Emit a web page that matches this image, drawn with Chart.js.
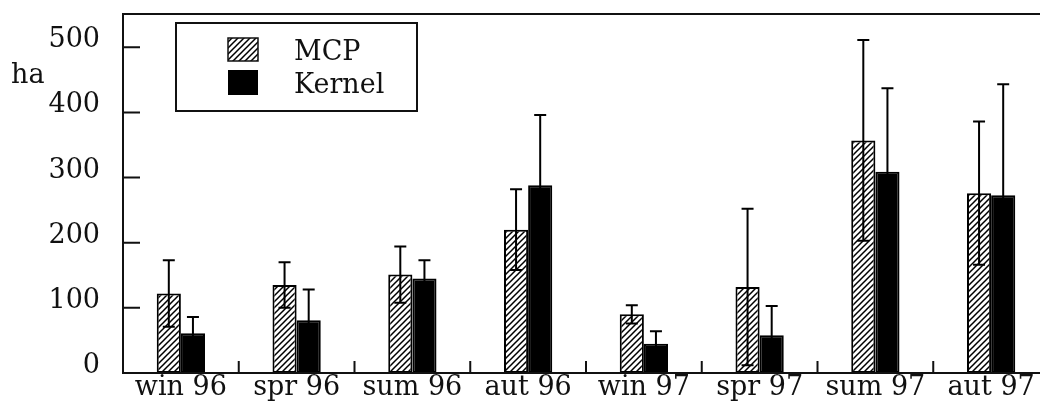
<!DOCTYPE html>
<html>
<head>
<meta charset="utf-8">
<script src="https://cdn.jsdelivr.net/npm/chart.js@4"></script>
<style>
  html, body { margin: 0; padding: 0; background: #fff; overflow: hidden; }
  #wrap { position: relative; width: 1052px; height: 403px; }
</style>
</head>
<body>
<div id="wrap"><canvas id="rangeChart"></canvas></div>
<script>
// 季節ごとの行動圏面積 (ha)
const seasons = ['win 96', 'spr 96', 'sum 96', 'aut 96', 'win 97', 'spr 97', 'sum 97', 'aut 97'];
const mcpMean = [122, 135, 151, 220, 90, 132, 357, 276];
const mcpSd = [51, 35, 43, 62, 14, 120, 154, 110];
const kernelMean = [61, 81, 145, 288, 45, 58, 309, 273];
const kernelSd = [25, 47, 28, 108, 19, 45, 128, 170];
const yTicks = [0, 100, 200, 300, 400, 500];

const errors = [mcpSd, kernelSd];
const serif = 'DejaVu Serif';
const ink = '#111';

// 斜線パターン
function makeHatch() {
  const n = 6;
  const c = document.createElement('canvas');
  c.width = n;
  c.height = n;
  const g = c.getContext('2d');
  g.fillStyle = '#fff';
  g.fillRect(0, 0, n, n);
  g.strokeStyle = '#000';
  g.lineWidth = 1.5;
  g.beginPath();
  g.moveTo(-1, n + 1); g.lineTo(n + 1, -1);
  g.moveTo(-n / 2 - 1, n / 2 + 1); g.lineTo(n / 2 + 1, -n / 2 - 1);
  g.moveTo(n / 2 - 1, n * 1.5 + 1); g.lineTo(n * 1.5 + 1, n / 2 - 1);
  g.stroke();
  return g.createPattern(c, 'repeat');
}
const hatch = makeHatch();

// 軸ラベル分の余白を消す
function noPadding(scale) {
  scale.paddingTop = 0;
  scale.paddingBottom = 0;
  scale.paddingLeft = 0;
  scale.paddingRight = 0;
}

// 枠・目盛り
const framePlugin = {
  id: 'frame',
  afterDraw(chart) {
    const { ctx, chartArea: a, scales: { x, y } } = chart;
    ctx.save();
    ctx.strokeStyle = ink;
    ctx.lineWidth = 2;
    ctx.strokeRect(a.left, a.top, a.right - a.left, a.bottom - a.top);
    ctx.beginPath();
    yTicks.forEach(v => {
      if (v === 0) return;
      const py = y.getPixelForValue(v);
      ctx.moveTo(a.left, py);
      ctx.lineTo(a.left + 17, py);
    });
    for (let i = 1; i < seasons.length; i++) {
      const px = (x.getPixelForTick(i - 1) + x.getPixelForTick(i)) / 2;
      ctx.moveTo(px, a.bottom);
      ctx.lineTo(px, a.bottom - 12);
    }
    ctx.stroke();

    // 単位
    ctx.fillStyle = ink;
    ctx.font = '27px "' + serif + '"';
    ctx.textBaseline = 'alphabetic';
    ctx.textAlign = 'left';
    ctx.fillText('ha', 11, 83);
    ctx.restore();
  }
};

// 誤差棒
const errorBarPlugin = {
  id: 'errorBars',
  afterDatasetsDraw(chart) {
    const { ctx, scales: { y } } = chart;
    ctx.save();
    ctx.strokeStyle = '#000';
    ctx.lineWidth = 2;
    chart.data.datasets.forEach((ds, i) => {
      const meta = chart.getDatasetMeta(i);
      meta.data.forEach((bar, j) => {
        const m = ds.data[j];
        const s = errors[i][j];
        const top = y.getPixelForValue(m + s);
        const bot = y.getPixelForValue(Math.max(m - s, 0));
        ctx.beginPath();
        ctx.moveTo(bar.x, bot);
        ctx.lineTo(bar.x, top);
        ctx.moveTo(bar.x - 6, top);
        ctx.lineTo(bar.x + 6, top);
        ctx.moveTo(bar.x - 6, bot);
        ctx.lineTo(bar.x + 6, bot);
        ctx.stroke();
      });
    });
    ctx.restore();
  }
};

// 凡例
const legendBoxPlugin = {
  id: 'legendBox',
  afterDraw(chart) {
    const { ctx } = chart;
    const ds = chart.data.datasets;
    ctx.save();
    ctx.fillStyle = '#fff';
    ctx.fillRect(176, 23, 241, 88);
    ctx.strokeStyle = ink;
    ctx.lineWidth = 2;
    ctx.strokeRect(176, 23, 241, 88);

    ctx.fillStyle = hatch;
    ctx.fillRect(228, 38, 30, 23);
    ctx.lineWidth = 1.5;
    ctx.strokeRect(228, 38, 30, 23);
    ctx.fillStyle = '#000';
    ctx.fillRect(228, 70, 30, 25);

    ctx.fillStyle = ink;
    ctx.font = '27px "' + serif + '"';
    ctx.textAlign = 'left';
    ctx.textBaseline = 'alphabetic';
    ctx.fillText(ds[0].label, 294, 60);
    ctx.fillText(ds[1].label, 294, 93);
    ctx.restore();
  }
};

document.addEventListener('DOMContentLoaded', () => {
  const ctx = document.getElementById('rangeChart').getContext('2d');
  new Chart(ctx, {
    type: 'bar',
    data: {
      labels: seasons,
      datasets: [
        {
          label: 'MCP',
          data: mcpMean,
          backgroundColor: hatch,
          borderColor: '#000',
          borderWidth: 2,
          borderSkipped: false
        },
        {
          label: 'Kernel',
          data: kernelMean,
          backgroundColor: '#000',
          borderColor: '#000',
          borderWidth: 2,
          borderSkipped: false
        }
      ]
    },
    options: {
      responsive: true,
      maintainAspectRatio: false,
      animation: false,
      layout: { padding: { top: 14, right: 3, left: 0, bottom: 0 } },
      datasets: {
        bar: { categoryPercentage: 0.417, barPercentage: 1.0 }
      },
      plugins: {
        legend: { display: false },
        tooltip: { enabled: false }
      },
      scales: {
        x: {
          grid: { display: false, drawTicks: false },
          border: { display: false },
          ticks: {
            color: ink,
            padding: -1,
            maxRotation: 0,
            autoSkip: false,
            font: { family: serif, size: 27 }
          },
          afterFit(scale) {
            scale.height = 30;
            noPadding(scale);
          }
        },
        y: {
          min: 0,
          max: 551,
          grid: { display: false, drawTicks: false },
          border: { display: false },
          ticks: {
            stepSize: 100,
            color: ink,
            padding: 23,
            labelOffset: -7,
            font: { family: serif, size: 27 }
          },
          afterBuildTicks(scale) {
            scale.ticks = yTicks.map(v => ({ value: v }));
          },
          afterFit(scale) {
            scale.width = 123;
            noPadding(scale);
          }
        }
      }
    },
    plugins: [errorBarPlugin, framePlugin, legendBoxPlugin]
  });
});
</script>
</body>
</html>
